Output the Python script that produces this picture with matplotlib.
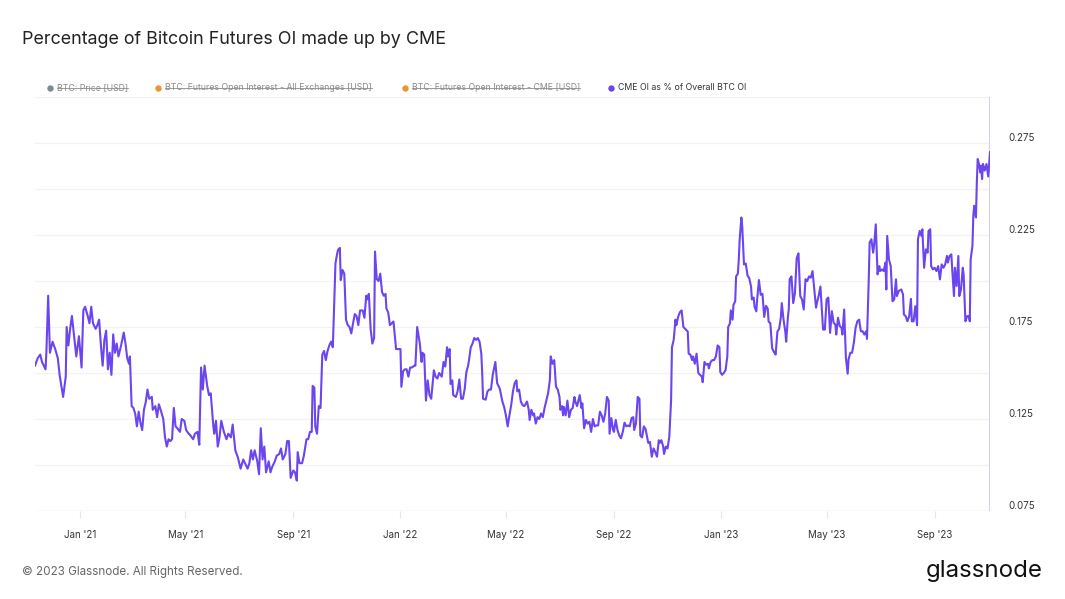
import matplotlib
matplotlib.use("Agg")
import matplotlib.pyplot as plt
import matplotlib.dates as mdates
from matplotlib.lines import Line2D
from matplotlib.transforms import ScaledTranslation
import pandas as pd
import numpy as np

plt.rcParams['font.family'] = ['Inter', 'DejaVu Sans']

# ---------------- data ----------------
title = "Percentage of Bitcoin Futures OI made up by CME"
start_date = "2021-01-01"
# days since 2021-01-01
day_offsets = [
    -51, -48, -45, -43, -39, -38, -36, -34, -31, -28, -25, -23, -19, -16, -15, -13, -11, -9, -7, -4,
    -1, 2, 4, 6, 9, 11, 13, 15, 18, 20, 22, 24, 26, 28, 30, 32, 34, 36, 38, 40,
    42, 44, 47, 50, 52, 54, 56, 57, 59, 61, 63, 65, 67, 69, 71, 73, 75, 77, 79, 82,
    83, 86, 88, 90, 92, 95, 97, 99, 101, 103, 105, 107, 109, 111, 114, 116, 119, 121, 124, 126,
    129, 131, 134, 136, 138, 140, 142, 145, 147, 149, 152, 153, 155, 157, 159, 161,
    164, 167, 169, 172, 174, 177, 180, 183, 186, 188, 191, 193, 195, 197, 199, 202, 204, 206, 208, 210,
    212, 215, 217, 219, 222, 224, 227, 229, 231, 234, 236, 238, 240, 243, 245, 247, 248, 250, 253, 255,
    258, 260, 262, 264, 265, 267, 268, 270, 272, 274, 276, 278, 280, 282, 284, 286, 288, 291, 293, 294,
    296, 297, 299, 301, 303, 305, 307, 309, 311, 313, 315, 317, 319, 322, 324, 326, 327, 329, 331, 333,
    335, 336, 338, 340, 342, 344, 346, 348, 349, 351, 353, 355, 357, 360, 362, 365, 366, 368, 370, 372,
    374, 376,
    378, 381, 382, 384, 387, 389, 390, 392, 394, 396, 398, 400, 402, 403, 405, 407, 409, 412, 414, 416,
    418, 419, 421, 422, 424, 425, 428, 430, 432, 434, 436, 438, 440, 442, 443, 445, 447, 449, 451, 453,
    455, 457, 458, 459, 462, 464, 466, 468, 470, 472, 473, 475, 478, 480, 481, 483, 485, 487, 489, 491,
    493, 495, 497, 498, 500, 502, 504, 506, 509, 511, 512, 514, 516, 517, 519, 521, 523, 525, 527, 529,
    531, 533, 535, 536, 538, 540, 542, 544, 546, 547, 549, 550, 551, 553, 555, 557, 559, 561, 563, 564,
    566, 569, 571, 572, 574, 576, 578, 580, 582, 584, 586, 588, 590,
    592, 594, 596, 598, 600, 602, 603, 605, 607, 608, 610, 612, 614, 616, 618, 620, 622, 624, 626, 628,
    630, 631, 633, 635, 637, 638, 640, 642, 644, 647, 649, 651, 653, 655, 657, 659, 660, 662, 664, 665,
    667, 669, 671, 673, 674, 676, 678, 679, 681, 683, 685, 687, 689, 692, 693, 695, 697, 698, 700, 702,
    704, 706, 708, 709, 711, 713, 715, 716, 718, 720, 722, 724, 726, 728, 729, 731, 733, 735, 737, 738,
    740, 741, 743, 744, 746, 747, 749, 750, 751, 753, 754, 756, 758, 760, 762, 764, 765, 767, 768, 770,
    771, 773, 775, 777, 779, 781, 783, 784, 786, 788, 790, 792, 794, 796, 798, 799, 801, 803, 804, 806,
    807,
    808, 810, 812, 814, 816, 818, 820, 822, 824, 826, 828, 830, 832, 834, 836, 838, 839, 841, 843, 844,
    846, 848, 850, 852, 854, 856, 858, 860, 861, 863, 865, 867, 868, 870, 872, 874, 875, 877, 879, 881,
    883, 885, 887, 889, 891, 893, 895, 896, 898, 899, 901, 903, 904, 906, 908, 910, 911, 913, 915, 917,
    918, 919, 921, 923, 925, 927, 929, 930, 932, 935, 937, 938, 940, 942, 944, 946, 947, 949, 951, 953,
    954, 956, 958, 959, 961, 963, 965, 966, 968, 969, 971, 973, 975, 977, 979, 981, 983, 985, 987, 988,
    990, 992, 993, 995, 996, 998, 1000, 1001, 1003, 1005, 1006, 1008, 1010, 1012, 1013, 1014, 1016, 1017, 1018, 1020,
    1021, 1022, 1023, 1025, 1026, 1027, 1028, 1030, 1032, 1034, 1036,
]
cme_oi_share = [
    0.154, 0.158, 0.160, 0.156, 0.152, 0.162, 0.192, 0.161, 0.167, 0.163, 0.158, 0.149, 0.137, 0.148, 0.175, 0.165, 0.174, 0.181, 0.172, 0.159,
    0.170, 0.153, 0.184, 0.186, 0.181, 0.177, 0.186, 0.177, 0.174, 0.176, 0.179, 0.165, 0.154, 0.168, 0.173, 0.152, 0.161, 0.149, 0.171, 0.161,
    0.166, 0.159, 0.165, 0.172, 0.166, 0.158, 0.155, 0.159, 0.132, 0.131, 0.128, 0.121, 0.129, 0.123, 0.119, 0.130, 0.134, 0.141, 0.136, 0.137,
    0.130, 0.132, 0.126, 0.133, 0.130, 0.125, 0.115, 0.110, 0.114, 0.113, 0.114, 0.131, 0.121, 0.120, 0.118, 0.125, 0.124, 0.119, 0.117, 0.116,
    0.114, 0.117, 0.118, 0.111, 0.153, 0.141, 0.154, 0.143, 0.138, 0.139, 0.121, 0.117, 0.124, 0.110, 0.115, 0.124,
    0.118, 0.114, 0.117, 0.115, 0.122, 0.108, 0.104, 0.098, 0.103, 0.101, 0.098, 0.101, 0.108, 0.103, 0.108, 0.102, 0.095, 0.120, 0.103, 0.110,
    0.096, 0.102, 0.096, 0.099, 0.102, 0.105, 0.106, 0.109, 0.103, 0.106, 0.113, 0.113, 0.093, 0.097, 0.096, 0.0915, 0.107, 0.101, 0.101, 0.105,
    0.114, 0.114, 0.118, 0.118, 0.143, 0.142, 0.121, 0.117, 0.132, 0.131, 0.160, 0.162, 0.157, 0.162, 0.165, 0.167, 0.164, 0.2096, 0.215, 0.217,
    0.218, 0.2005, 0.206, 0.204, 0.179, 0.176, 0.175, 0.1715, 0.177, 0.182, 0.181, 0.176, 0.184, 0.184, 0.180, 0.192, 0.190, 0.193, 0.174, 0.166,
    0.169, 0.216, 0.201, 0.200, 0.204, 0.194, 0.192, 0.193, 0.185, 0.183, 0.176, 0.177, 0.178, 0.163, 0.163, 0.163, 0.1425, 0.151, 0.152, 0.152,
    0.148, 0.153,
    0.153, 0.154, 0.154, 0.175, 0.166, 0.156, 0.161, 0.160, 0.135, 0.146, 0.138, 0.136, 0.146, 0.1515, 0.148, 0.147, 0.150, 0.148, 0.156, 0.1535,
    0.164, 0.159, 0.163, 0.144, 0.146, 0.138, 0.137, 0.140, 0.1465, 0.136, 0.136, 0.141, 0.1505, 0.154, 0.157, 0.164, 0.166, 0.169, 0.168, 0.169,
    0.167, 0.1605, 0.150, 0.136, 0.1355, 0.140, 0.141, 0.141, 0.149, 0.1535, 0.156, 0.1445, 0.1415, 0.137, 0.1345, 0.1315, 0.127, 0.121, 0.127, 0.1325,
    0.140, 0.1445, 0.146, 0.140, 0.141, 0.1345, 0.1325, 0.132, 0.1345, 0.130, 0.1245, 0.130, 0.127, 0.128, 0.1225, 0.126, 0.125, 0.128, 0.126, 0.131,
    0.135, 0.139, 0.146, 0.159, 0.155, 0.157, 0.1425, 0.141, 0.137, 0.130, 0.132, 0.127, 0.1315, 0.127, 0.135, 0.126, 0.130, 0.131, 0.137, 0.1345,
    0.132, 0.138, 0.131, 0.1335, 0.120, 0.1245, 0.1225, 0.1235, 0.118, 0.125, 0.121, 0.1215, 0.1215,
    0.129, 0.127, 0.1235, 0.128, 0.137, 0.135, 0.117, 0.1255, 0.119, 0.118, 0.1245, 0.119, 0.116, 0.1145, 0.118, 0.123, 0.121, 0.1215, 0.121, 0.1255,
    0.126, 0.119, 0.1225, 0.137, 0.136, 0.116, 0.115, 0.121, 0.1195, 0.112, 0.1125, 0.1045, 0.109, 0.107, 0.1045, 0.1135, 0.112, 0.1135, 0.110, 0.106,
    0.110, 0.109, 0.1155, 0.135, 0.164, 0.168, 0.179, 0.176, 0.1805, 0.183, 0.184, 0.175, 0.174, 0.1725, 0.1605, 0.160, 0.157, 0.159, 0.155, 0.1605,
    0.150, 0.149, 0.148, 0.145, 0.156, 0.1545, 0.155, 0.1525, 0.156, 0.157, 0.157, 0.159, 0.165, 0.164, 0.1505, 0.149, 0.150, 0.1515, 0.159, 0.175,
    0.177, 0.184, 0.179, 0.187, 0.189, 0.2025, 0.204, 0.211, 0.222, 0.2345, 0.2295, 0.209, 0.2095, 0.203, 0.2015, 0.197, 0.190, 0.191, 0.186, 0.1835,
    0.190, 0.2005, 0.1925, 0.193, 0.1805, 0.1865, 0.185, 0.178, 0.177, 0.1635, 0.1615, 0.160, 0.1725, 0.174, 0.1805, 0.188, 0.179, 0.1725, 0.167, 0.1805,
    0.185,
    0.201, 0.2025, 0.188, 0.1935, 0.2125, 0.215, 0.1918, 0.190, 0.1845, 0.201, 0.200, 0.2025, 0.2018, 0.2054, 0.1954, 0.1855, 0.188, 0.192, 0.197, 0.189,
    0.1736, 0.1736, 0.190, 0.191, 0.1718, 0.1836, 0.1773, 0.1763, 0.1709, 0.180, 0.1755, 0.1745, 0.1709, 0.1845, 0.1582, 0.1496, 0.1573, 0.161, 0.161, 0.1663,
    0.1745, 0.1781, 0.179, 0.1727, 0.1727, 0.1709, 0.1727, 0.1685, 0.201, 0.2209, 0.2227, 0.2154, 0.219, 0.2308, 0.2036, 0.2081, 0.2054, 0.2063, 0.2054, 0.210,
    0.1954, 0.2245, 0.2118, 0.2081, 0.189, 0.190, 0.2009, 0.1918, 0.1945, 0.1954, 0.1927, 0.1818, 0.1809, 0.1781, 0.1809, 0.1903, 0.1781, 0.1781, 0.1863, 0.176,
    0.2227, 0.2272, 0.2245, 0.2281, 0.2072, 0.2172, 0.2154, 0.2272, 0.2281, 0.2081, 0.2063, 0.2072, 0.2054, 0.2081, 0.2009, 0.209, 0.2072, 0.209, 0.2136, 0.210,
    0.2136, 0.2145, 0.2063, 0.1918, 0.2072, 0.1973, 0.2136, 0.1918, 0.1954, 0.2072, 0.2036, 0.1781, 0.1809, 0.1809, 0.1781, 0.2118, 0.219, 0.2354, 0.2409, 0.2345,
    0.2536, 0.2663, 0.2645, 0.259, 0.2627, 0.2554, 0.2636, 0.260, 0.2636, 0.2568, 0.270,
]

legend_labels = ["BTC: Price [USD]", "BTC: Futures Open Interest - All Exchanges [USD]",
                 "BTC: Futures Open Interest - CME [USD]", "CME OI as % of Overall BTC OI"]
legend_colors = ["#7d8a8f", "#f0932e", "#f0932e", "#6a45f0"]
legend_hidden = [True, True, True, False]

y_gridlines = [0.075, 0.1, 0.125, 0.15, 0.175, 0.2, 0.225, 0.25, 0.275, 0.3]
y_labelled = [0.075, 0.125, 0.175, 0.225, 0.275]
x_tick_dates = ["2021-01-01", "2021-05-01", "2021-09-01", "2022-01-01", "2022-05-01",
                "2022-09-01", "2023-01-01", "2023-05-01", "2023-09-01"]

# ---------------- plot ----------------
dates = pd.Timestamp(start_date) + pd.to_timedelta(day_offsets, unit="D")
line_color = "#6a45f0"

fig = plt.figure(figsize=(10.65, 5.99), dpi=100)
ax = fig.add_axes([35/1065, 1 - 511/599, (990 - 35)/1065, (511 - 97)/599])

ax.plot(dates, cme_oi_share, color=line_color, lw=1.5, solid_joinstyle='round', zorder=3)
ax.axvline(dates[-1], color="#c9bbff", lw=1.8, zorder=2)

ax.set_xlim(dates[0], dates[-1])
ax.set_ylim(y_gridlines[0], y_gridlines[-1])

for s in ax.spines.values():
    s.set_visible(False)

ax.set_yticks(y_gridlines)
ax.set_yticklabels([f"{v:.3f}" if any(abs(v - w) < 1e-9 for w in y_labelled) else "" for v in y_gridlines])
ax.yaxis.tick_right()
ax.tick_params(axis='y', length=0, pad=13, labelsize=7, labelcolor="#333333")
ax.grid(axis='y', color="#f2f2f2", lw=0.9, zorder=0)
for lab in ax.get_yticklabels():
    lab.set_transform(lab.get_transform() + ScaledTranslation(0, 4/72, fig.dpi_scale_trans))

ax.set_xticks(pd.to_datetime(x_tick_dates))
ax.xaxis.set_major_formatter(mdates.DateFormatter("%b '%y"))
ax.tick_params(axis='x', length=5, width=0.8, color="#e6e6e6", pad=9, labelsize=7, labelcolor="#333333")
ax.axhline(y_gridlines[0], color="#e8e8e8", lw=0.9, zorder=1)

# Title
fig.text(22/1065, 1 - 40/599, title, fontsize=12.9, color="#222222", va='center', ha='left')

# Legend row
legend_x = [50, 158, 405, 611]
texts = []
for xpix, lab, col, hid in zip(legend_x, legend_labels, legend_colors, legend_hidden):
    fig.add_artist(Line2D([xpix/1065], [1 - 88/599], marker='o', ms=4.6, color=col,
                          markeredgewidth=0, transform=fig.transFigure))
    t = fig.text((xpix + 7)/1065, 1 - 88/599, lab, fontsize=6.3,
                 color="#8a8a8a" if hid else "#333333", va='center', ha='left')
    texts.append((t, hid))

fig.canvas.draw()
inv = fig.transFigure.inverted()
for t, hid in texts:
    if not hid:
        continue
    bb = t.get_window_extent()
    (x0, y0), (x1, y1) = inv.transform([(bb.x0, (bb.y0 + bb.y1)/2), (bb.x1, (bb.y0 + bb.y1)/2)])
    fig.add_artist(Line2D([x0, x1], [y0, y0], color="#8a8a8a", lw=0.6, transform=fig.transFigure))

# Footer
fig.text(22/1065, 1 - 572/599, "© 2023 Glassnode. All Rights Reserved.", fontsize=8.4, color="#666666",
         va='center', ha='left')
fig.text(1043/1065, 1 - 571/599, "glassnode", fontsize=17.3, color="#111111", va='center', ha='right')

fig.savefig("out.png", dpi=100, facecolor="white")
